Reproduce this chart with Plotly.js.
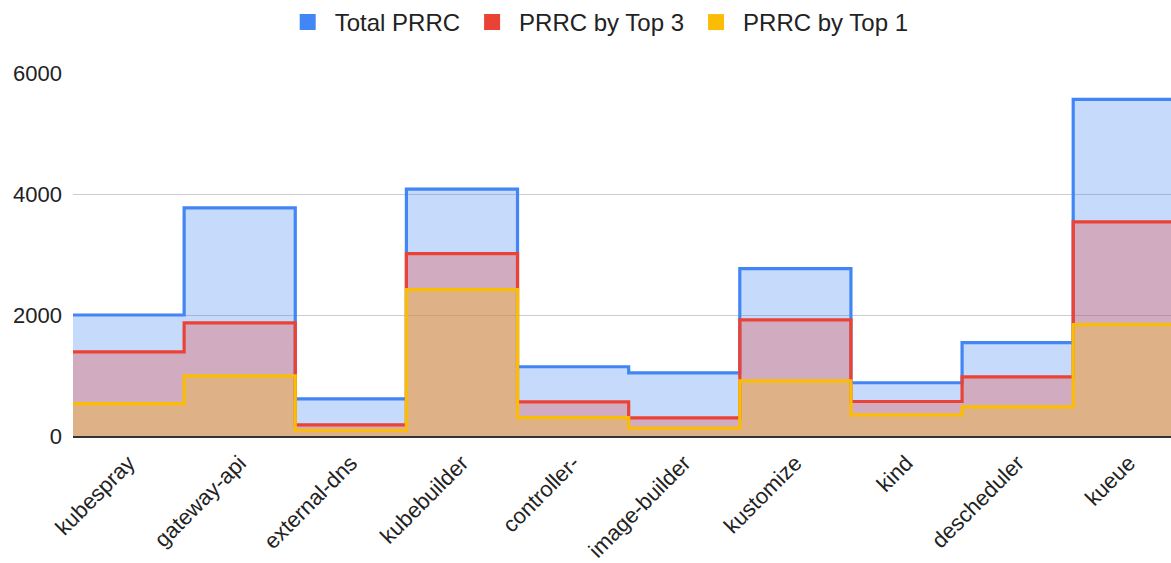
<!DOCTYPE html>
<html>
<head>
<meta charset="utf-8">
<script src="https://cdn.plot.ly/plotly-3.0.1.min.js"></script>
<style>html,body{margin:0;padding:0;background:#fff}#chart{width:1171px;height:563px}</style>
</head>
<body>
<div id="chart"></div>
<script>
const categories = ["kubespray","gateway-api","external-dns","kubebuilder","controller-","image-builder","kustomize","kind","descheduler","kueue"];
const totalPRRC = [2000, 3770, 615, 4080, 1145, 1045, 2765, 880, 1545, 5565];
const top3PRRC  = [1390, 1870, 185, 3015, 565, 300, 1920, 570, 978, 3540];
const top1PRRC  = [535, 995, 95, 2420, 305, 130, 910, 350, 480, 1840];
const seriesNames = ["Total PRRC", "PRRC by Top 3", "PRRC by Top 1"];
const colors = ["#4285F4", "#EA4335", "#FBBC04"];
const fills = ["rgba(66,133,244,0.3)", "rgba(234,67,53,0.3)", "rgba(251,188,4,0.3)"];

function stepX(n){ const xs=[]; for(let i=0;i<n;i++) xs.push(i-0.5); xs.push(n-0.5); return xs; }
function stepY(v){ return v.concat([v[v.length-1]]); }

const series = [totalPRRC, top3PRRC, top1PRRC];
const traces = [];
series.forEach((vals, k) => {
  traces.push({
    x: stepX(vals.length), y: stepY(vals), type: 'scatter', mode: 'lines',
    line: {shape: 'hv', color: colors[k], width: 3.2},
    fill: 'tozeroy', fillcolor: fills[k], showlegend: false, hoverinfo: 'skip'
  });
});
series.forEach((vals, k) => {
  traces.push({
    x: [null], y: [null], type: 'scatter', mode: 'markers', name: seriesNames[k],
    marker: {symbol: 'square', size: 18, color: colors[k]}, showlegend: true
  });
});

const fam = 'Arial, "Liberation Sans", sans-serif';
const font = {family: fam, size: 23, color: '#222'};
Plotly.newPlot('chart', traces, {
  width: 1171, height: 563,
  margin: {l: 73, r: 0, t: 73, b: 127},
  paper_bgcolor: '#fff', plot_bgcolor: '#fff',
  font: font,
  showlegend: true,
  legend: {orientation: 'h', x: 0.51, xanchor: 'center', xref: 'container', y: 1, yref: 'container', yanchor: 'top',
           font: {family: fam, size: 24, color: '#222'}, itemwidth: 44},
  xaxis: {range: [-0.5, 9.38], tickvals: categories.map((c,i)=>i), ticktext: categories, tickangle: -45,
          showgrid: false, zeroline: false, showline: true, linecolor: '#333', linewidth: 1.5,
          ticks: '', tickfont: {family: fam, size: 22, color: '#222'}, ticklabelstandoff: 4},
  yaxis: {range: [0, 6000], tickvals: [0, 2000, 4000, 6000], showgrid: true, gridcolor: '#ccc', gridwidth: 1,
          zeroline: false, ticks: '', tickfont: {family: fam, size: 22, color: '#222'}, ticklabelstandoff: 10}
}, {staticPlot: true});
</script>
</body>
</html>
